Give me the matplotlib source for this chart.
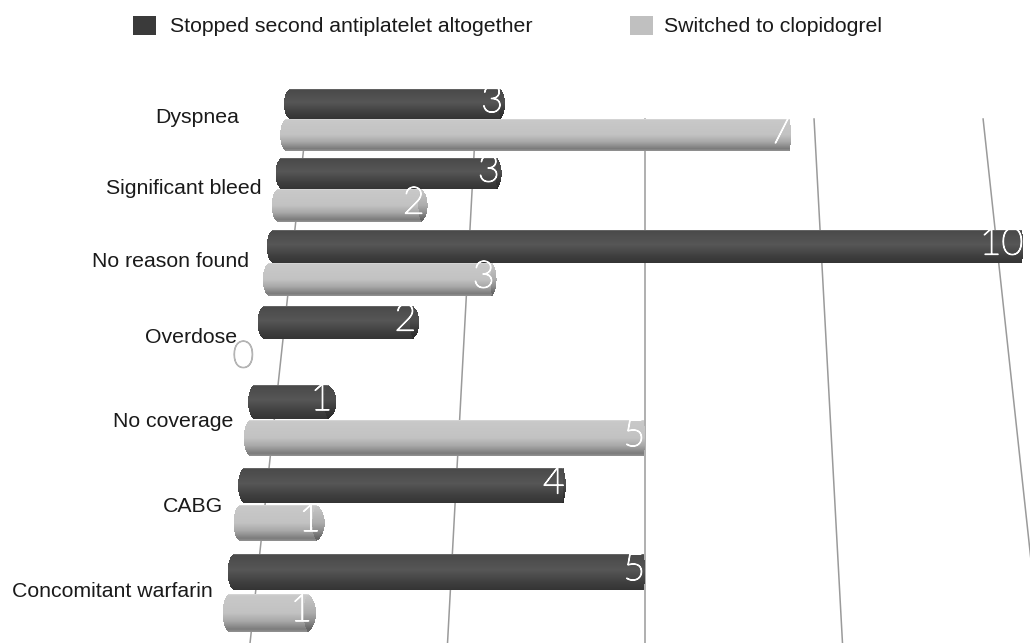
import numpy as np
import matplotlib
matplotlib.use("Agg")
import matplotlib.pyplot as plt
import matplotlib.patheffects as pe
from matplotlib.patches import Rectangle

categories = ["Dyspnea", "Significant bleed", "No reason found", "Overdose",
              "No coverage", "CABG", "Concomitant warfarin"]
stopped = [3, 3, 10, 2, 1, 4, 5]
switched = [7, 2, 3, 0, 5, 1, 1]
series_names = ["Stopped second antiplatelet altogether", "Switched to clopidogrel"]
grid_values = [0, 2.5, 5, 7.5, 10]

# layout (pixel rows of the perspective picture)
dark_rows = [(89, 119), (158, 189), (230, 263), (306, 339), (385, 419), (468, 503), (554, 590)]
light_rows = [(119, 151), (189, 222), (263, 296), (343, 376), (420, 456), (505, 541), (594, 632)]
label_pos = [(239, 116), (261, 187), (249, 260), (237, 336), (233, 420), (223, 505), (213, 590)]

W, H = 1030, 643
fig = plt.figure(figsize=(W / 100, H / 100), dpi=100)
ax = fig.add_axes([0, 0, 1, 1])
ax.set_xlim(0, W)
ax.set_ylim(H, 0)
ax.axis("off")

SANS = "Liberation Sans"
THIN = "Lato"


def bar_x(v, y):
    return 645 + (v - 5) * (72.2 + 0.024 * (y - 103))


def grid_x(v, y):
    return 645 + (v - 5) * (67.6 + 0.0217 * (y - 118))


DARK = ([0, 0.05, 0.45, 0.8, 1], ["#7a7a7a", "#4a4a4a", "#565656", "#3e3e3e", "#343434"])
LIGHT = ([0, 0.05, 0.5, 0.72, 0.93, 1], ["#dcdcdc", "#c8c8c8", "#c2c2c2", "#a8a8a8", "#7c7c7c", "#909090"])


def shade(profile, t, factor=1.0):
    stops, cols = profile
    rgb = np.array([matplotlib.colors.to_rgb(c) for c in cols])
    return tuple(np.clip(np.interp(t, stops, rgb[:, i]) * factor, 0, 1) for i in range(3))


def cylinder(v, top, bottom, profile):
    n = int(round(bottom - top)) * 2
    edges = np.linspace(top, bottom, n + 1)
    ys = 0.5 * (edges[:-1] + edges[1:])
    t = (ys - top) / (bottom - top)
    curve = np.sqrt(np.clip(1 - (2 * t - 1) ** 2, 0, 1))
    mid = 0.5 * (top + bottom)
    left = bar_x(0, mid) + 7 * (1 - curve)
    body = bar_x(v, mid)
    cap = max(0.0, (5 - v) * 2.2)
    right = body + (cap + 2) * curve - 2
    colors = [shade(profile, a) for a in t]
    ax.barh(ys, right - left, left=left, height=(bottom - top) / n * 1.15,
            color=colors, linewidth=0, zorder=3)
    if cap > 1:
        inner = body - cap * curve * 0.7 + cap * 0.3
        cap_colors = [shade(profile, a, 1.0 - 0.22 * a) for a in t]
        ax.barh(ys, right - inner, left=inner, height=(bottom - top) / n * 1.15,
                color=cap_colors, linewidth=0, zorder=3.1)


# grid
yy = np.array([119, H + 2])
for g in grid_values:
    ax.plot(grid_x(g, yy), yy, color="#9a9a9a", lw=1.1, zorder=1)

# bars and value labels
for i, name in enumerate(categories):
    for v, (top, bottom), prof in ((stopped[i], dark_rows[i], DARK),
                                   (switched[i], light_rows[i], LIGHT)):
        mid = 0.5 * (top + bottom)
        if v > 0:
            cylinder(v, top, bottom, prof)
            cap = max(0.0, (5 - v) * 2.2)
            xr = bar_x(v, mid) + cap * 0.55
            ax.text(xr, mid - 2, str(v), ha="right", va="center", color="white",
                    fontsize=27, family=THIN, fontweight="light", zorder=5,
                    path_effects=[pe.withStroke(linewidth=0.9, foreground="white")])
        else:
            ax.text(bar_x(0, mid) + 1, mid - 2, str(v), ha="right", va="center",
                    color="#b4b4b4", fontsize=27, family=THIN, fontweight="light", zorder=5,
                    path_effects=[pe.withStroke(linewidth=0.9, foreground="#b4b4b4")])
    x, y = label_pos[i]
    ax.text(x, y + 1.5, name, ha="right", va="center", fontsize=15.3, family=SANS,
            color="#1a1a1a", zorder=6)

# legend
for (sx, tx), col, name in zip(((133, 170), (630, 664)), ("#3a3a3a", "#c0c0c0"), series_names):
    ax.add_patch(Rectangle((sx, 16), 23, 19, facecolor=col, edgecolor="none", zorder=6))
    ax.text(tx, 26, name, ha="left", va="center", fontsize=15.3, family=SANS,
            color="#1a1a1a", zorder=6)

fig.savefig("out.png", dpi=100, facecolor="white")
